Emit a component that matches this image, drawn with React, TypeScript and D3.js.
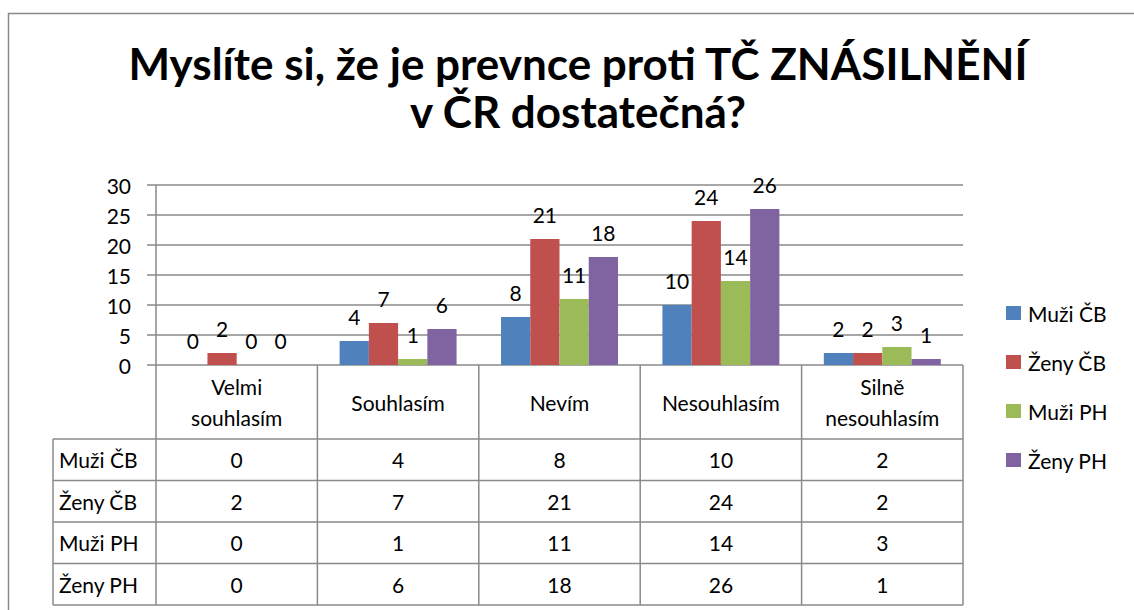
import { useEffect, useRef } from "react"
import * as d3 from "d3"

// data
const categories = ["Velmi souhlasím", "Souhlasím", "Nevím", "Nesouhlasím", "Silně nesouhlasím"]
const categoryLines = [["Velmi", "souhlasím"], ["Souhlasím"], ["Nevím"], ["Nesouhlasím"], ["Silně", "nesouhlasím"]]
const seriesNames = ["Muži ČB", "Ženy ČB", "Muži PH", "Ženy PH"]
const muziCB = [0, 4, 8, 10, 2]
const zenyCB = [2, 7, 21, 24, 2]
const muziPH = [0, 1, 11, 14, 3]
const zenyPH = [0, 6, 18, 26, 1]
const seriesColors = ["#4F81BD", "#C0504D", "#9BBB59", "#8064A2"]
const yTicks = [0, 5, 10, 15, 20, 25, 30]
const titleLines = ["Myslíte si, že je prevnce proti TČ ZNÁSILNĚNÍ", "v ČR dostatečná?"]

export default function App() {
  const svgRef = useRef(null)

  useEffect(() => {
    if (!svgRef.current) return
    const svg = d3.select(svgRef.current)
    svg.selectAll("*").remove()

    const width = 1134
    const height = 610
    const font = "Lato, 'Open Sans', sans-serif"
    const fs = "21px"
    const gridColor = "#8a8a8a"

    const plotLeft = 156
    const plotRight = 963
    const plotTop = 185
    const plotBottom = 365
    const tableLeft = 53
    const headerBottom = 439
    const rowH = 41.5

    const allSeries = [muziCB, zenyCB, muziPH, zenyPH]
    const data = []
    allSeries.forEach((vals, si) => {
      vals.forEach((v, ci) => {
        data.push({ series: seriesNames[si], cat: categories[ci], value: v, color: seriesColors[si] })
      })
    })

    const x0 = d3.scaleBand().domain(categories).range([plotLeft, plotRight]).padding(0)
    const x1 = d3.scaleBand().domain(seriesNames).range([0, x0.bandwidth()]).paddingInner(0).paddingOuter(0.76)
    const y = d3.scaleLinear().domain([0, 30]).range([plotBottom, plotTop])

    // outer frame
    svg.append("rect")
      .attr("x", 8.5).attr("y", 13.5)
      .attr("width", width + 10).attr("height", height + 10)
      .attr("fill", "white").attr("stroke", gridColor).attr("stroke-width", 1.5)

    // title
    svg.append("g")
      .selectAll("text")
      .data(titleLines)
      .enter()
      .append("text")
      .attr("x", 578)
      .attr("y", (d, i) => 80 + i * 48)
      .attr("text-anchor", "middle")
      .attr("font-family", font)
      .attr("font-weight", "bold")
      .attr("font-size", "44px")
      .text((d) => d)

    // gridlines
    svg.append("g")
      .selectAll("line")
      .data(yTicks)
      .enter()
      .append("line")
      .attr("x1", plotLeft - 9).attr("x2", plotRight)
      .attr("y1", (d) => y(d)).attr("y2", (d) => y(d))
      .attr("stroke", gridColor).attr("stroke-width", 1.5)

    // y tick labels
    svg.append("g")
      .selectAll("text")
      .data(yTicks)
      .enter()
      .append("text")
      .attr("x", 131)
      .attr("y", (d) => y(d))
      .attr("text-anchor", "end")
      .attr("dominant-baseline", "central")
      .attr("font-family", font)
      .attr("font-size", fs)
      .text((d) => d)

    // bars
    svg.append("g")
      .selectAll("rect")
      .data(data)
      .enter()
      .append("rect")
      .attr("x", (d) => x0(d.cat) + x1(d.series))
      .attr("y", (d) => y(d.value))
      .attr("width", x1.bandwidth())
      .attr("height", (d) => y(0) - y(d.value))
      .attr("fill", (d) => d.color)

    // bar labels
    svg.append("g")
      .selectAll("text")
      .data(data)
      .enter()
      .append("text")
      .attr("x", (d) => x0(d.cat) + x1(d.series) + x1.bandwidth() / 2)
      .attr("y", (d) => y(d.value) - 25)
      .attr("text-anchor", "middle")
      .attr("dominant-baseline", "central")
      .attr("font-family", font)
      .attr("font-size", fs)
      .text((d) => d.value)

    // data table
    const table = svg.append("g")
    const rowTops = seriesNames.map((s, i) => headerBottom + i * rowH)
    const tableBottom = headerBottom + seriesNames.length * rowH

    table.selectAll("line.h")
      .data([headerBottom, ...rowTops.map((t) => t + rowH)])
      .enter()
      .append("line")
      .attr("x1", tableLeft).attr("x2", plotRight)
      .attr("y1", (d) => d).attr("y2", (d) => d)
      .attr("stroke", gridColor).attr("stroke-width", 1.5)

    const bounds = categories.map((c) => x0(c)).concat([plotRight])
    table.selectAll("line.v")
      .data(bounds)
      .enter()
      .append("line")
      .attr("x1", (d) => d).attr("x2", (d) => d)
      .attr("y1", (d, i) => (i === 0 ? plotTop : plotBottom))
      .attr("y2", tableBottom)
      .attr("stroke", gridColor).attr("stroke-width", 1.5)

    table.append("line")
      .attr("x1", tableLeft).attr("x2", tableLeft)
      .attr("y1", headerBottom).attr("y2", tableBottom)
      .attr("stroke", gridColor).attr("stroke-width", 1.5)

    // header labels
    const headerMid = (plotBottom + headerBottom) / 2
    categoryLines.forEach((lines, ci) => {
      const cx = x0(categories[ci]) + x0.bandwidth() / 2
      lines.forEach((ln, li) => {
        table.append("text")
          .attr("x", cx)
          .attr("y", headerMid + (li - (lines.length - 1) / 2) * 31)
          .attr("text-anchor", "middle")
          .attr("dominant-baseline", "central")
          .attr("font-family", font)
          .attr("font-size", fs)
          .text(ln)
      })
    })

    // row labels and values
    allSeries.forEach((vals, si) => {
      const cy = rowTops[si] + rowH / 2
      table.append("text")
        .attr("x", tableLeft + 6)
        .attr("y", cy)
        .attr("dominant-baseline", "central")
        .attr("font-family", font)
        .attr("font-size", fs)
        .text(seriesNames[si])
      vals.forEach((v, ci) => {
        table.append("text")
          .attr("x", x0(categories[ci]) + x0.bandwidth() / 2)
          .attr("y", cy)
          .attr("text-anchor", "middle")
          .attr("dominant-baseline", "central")
          .attr("font-family", font)
          .attr("font-size", fs)
          .text(v)
      })
    })

    // legend
    const legend = svg.append("g")
    seriesNames.forEach((s, i) => {
      const cy = 313 + i * 49
      legend.append("rect")
        .attr("x", 1006).attr("y", cy - 7)
        .attr("width", 15).attr("height", 14)
        .attr("fill", seriesColors[i])
      legend.append("text")
        .attr("x", 1028).attr("y", cy)
        .attr("dominant-baseline", "central")
        .attr("font-family", font)
        .attr("font-size", fs)
        .text(s)
    })

    svg.attr("width", width).attr("height", height)
  }, [])

  return (
    <div style={{ position: "absolute", left: 0, top: 0, background: "white" }}>
      <svg ref={svgRef} style={{ display: "block" }}></svg>
    </div>
  )
}
